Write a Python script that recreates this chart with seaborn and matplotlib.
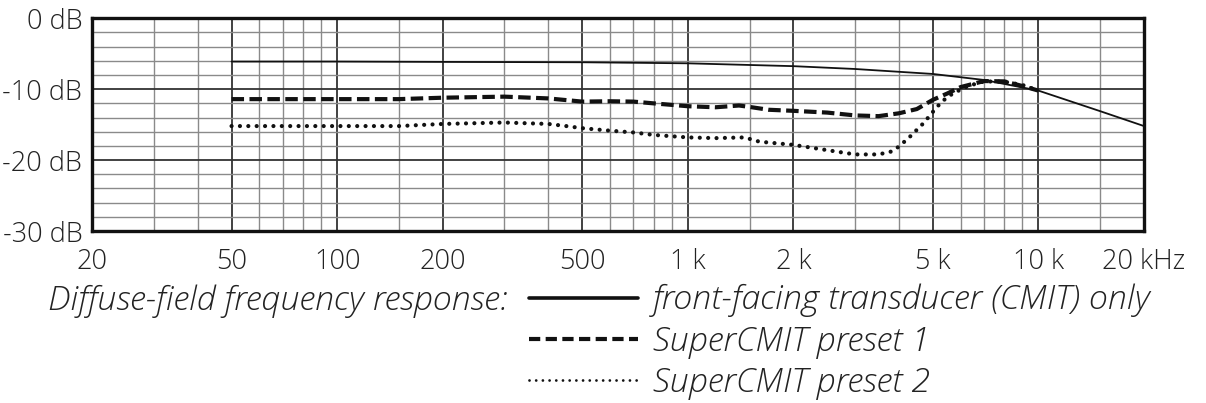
import numpy as np
import pandas as pd
import matplotlib
matplotlib.use("Agg")
import matplotlib.pyplot as plt
from matplotlib.lines import Line2D
import seaborn as sns

# ---- data ----
freq_cmit = [50, 100, 200, 500, 1000, 2000, 3000, 5000, 7000, 10000, 15000, 20000]
db_cmit = [-6.1, -6.1, -6.15, -6.2, -6.35, -6.75, -7.15, -7.85, -8.7, -10.2, -13.1, -15.2]

freq_p1 = [50, 100, 150, 200, 300, 400, 500, 600, 700, 800, 1000, 1200, 1400, 1500,
           1700, 2000, 2500, 3000, 3500, 4000, 4500, 5000, 5500, 6000, 7000, 8000, 9000, 10000]
db_p1 = [-11.4, -11.4, -11.4, -11.2, -11.05, -11.3, -11.75, -11.7, -11.75, -12.0, -12.4, -12.55,
         -12.3, -12.5, -12.9, -13.05, -13.3, -13.7, -13.8, -13.4, -12.8, -11.5, -10.6, -9.7,
         -8.85, -8.9, -9.55, -10.2]

freq_p2 = [50, 100, 150, 200, 300, 400, 450, 500, 600, 700, 800, 1000, 1200, 1450, 1600,
           2000, 2500, 3000, 3500, 3800, 4000, 4300, 4700, 5000, 5300, 5700, 6300, 7000,
           8000, 9000, 10000]
db_p2 = [-15.2, -15.2, -15.2, -14.9, -14.7, -14.9, -15.2, -15.5, -15.85, -16.1, -16.45, -16.8,
         -16.9, -16.8, -17.4, -17.85, -18.6, -19.2, -19.2, -18.8, -18.1, -16.7, -14.8, -13.2,
         -11.75, -10.6, -9.55, -8.9, -8.95, -9.4, -10.2]

series_labels = ["front-facing transducer (CMIT) only", "SuperCMIT preset 1", "SuperCMIT preset 2"]
title_text = "Diffuse-field frequency response:"

x_major = [20, 50, 100, 200, 500, 1000, 2000, 5000, 10000, 20000]
x_major_labels = ["20", "50", "100", "200", "500", "1 k", "2 k", "5 k", "10 k", "20 kHz"]
x_minor = [30, 40, 60, 70, 80, 90, 150, 300, 400, 600, 700, 800, 900,
           1500, 3000, 4000, 6000, 7000, 8000, 9000, 15000]
y_major = [0, -10, -20, -30]
y_major_labels = ["0 dB", "-10 dB", "-20 dB", "-30 dB"]
y_minor = [-2, -4, -6, -8, -12, -14, -16, -18, -22, -24, -26, -28]

# ---- style ----
sns.set_style("white")
plt.rcParams["font.family"] = ["Open Sans", "DejaVu Sans"]
plt.rcParams["font.weight"] = 300
txt = "#222222"

fig = plt.figure(figsize=(12.06, 4.03), dpi=100)
ax = fig.add_axes([92 / 1206, 1 - 231 / 403, (1144 - 92) / 1206, (231 - 18.3) / 403])

df_c = pd.DataFrame({"f": freq_cmit, "db": db_cmit})
df_1 = pd.DataFrame({"f": freq_p1, "db": db_p1})
df_2 = pd.DataFrame({"f": freq_p2, "db": db_p2})

sns.lineplot(data=df_c, x="f", y="db", ax=ax, color="#111111", lw=1.3, zorder=5)
sns.lineplot(data=df_1, x="f", y="db", ax=ax, color="#111111", lw=3.0,
             linestyle=(0, (3.0, 1.3)), zorder=6)
sns.lineplot(data=df_2, x="f", y="db", ax=ax, color="#111111", lw=3.0,
             linestyle=(0, (0.01, 2.0)), zorder=6)
for ln in ax.lines:
    ln.set_dash_capstyle("butt")
ax.lines[-1].set_dash_capstyle("round")

ax.set_xscale("log")
ax.set_xlim(20, 20000)
ax.set_ylim(-30, 0)
ax.set_xticks(x_major)
ax.set_xticklabels(x_major_labels)
ax.set_xticks(x_minor, minor=True)
ax.set_yticks(y_major)
ax.set_yticklabels(y_major_labels)
ax.set_yticks(y_minor, minor=True)
ax.xaxis.set_minor_formatter(matplotlib.ticker.NullFormatter())
ax.set_xlabel("")
ax.set_ylabel("")

ax.grid(which="major", color="#333333", lw=1.3, zorder=1)
ax.grid(which="minor", color="#8a8a8a", lw=1.0, zorder=1)
ax.set_axisbelow(True)
ax.tick_params(which="both", length=0, labelsize=19.5, labelcolor=txt)
ax.tick_params(axis="x", pad=12)
ax.tick_params(axis="y", pad=7)
for s in ax.spines.values():
    s.set_visible(True)
    s.set_color("#111111")
    s.set_linewidth(2.4)

fig.text(508 / 1206, 1 - 301 / 403, title_text, ha="right", va="center",
         style="italic", fontsize=24.5, color=txt, weight=300)

handles = [
    Line2D([], [], color="#111111", lw=2.6),
    Line2D([], [], color="#111111", lw=3.0, linestyle=(0, (2.7, 1.3))),
    Line2D([], [], color="#111111", lw=2.0, linestyle=(0, (0.01, 2.4)), dash_capstyle="round"),
]
leg = fig.legend(handles, series_labels, loc="center left",
                 bbox_to_anchor=(529 / 1206, 1 - 342 / 403), frameon=False,
                 handlelength=3.2, handletextpad=0.44, labelspacing=0.23,
                 borderpad=0, borderaxespad=0,
                 prop={"size": 24.5, "style": "italic", "weight": 300})
for t in leg.get_texts():
    t.set_color(txt)

fig.savefig("out.png", dpi=100)
